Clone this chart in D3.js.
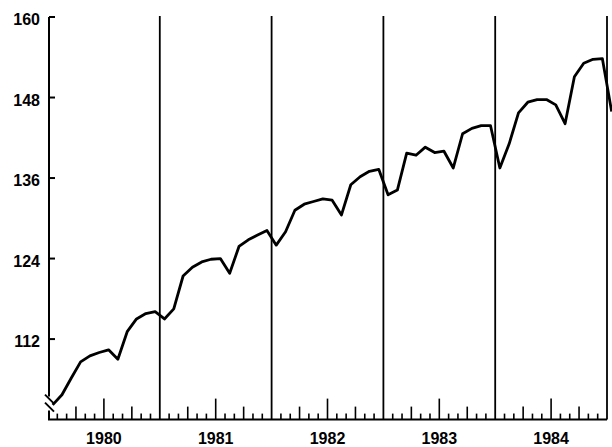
<!DOCTYPE html>
<html>
<head>
<meta charset="utf-8">
<script src="https://cdn.jsdelivr.net/npm/d3@7"></script>
<style>
  html, body { margin: 0; padding: 0; background: #fff; }
  svg { display: block; }
  text { font-family: "Liberation Sans", Arial, sans-serif; font-weight: bold; font-size: 16px; fill: #000; }
</style>
</head>
<body>
<svg id="chart" width="612" height="447"></svg>
<script>
// Monthly index, January 1980 through January 1985
const years = ["1980", "1981", "1982", "1983", "1984"];
const values1980 = [102.2, 103.7, 106.2, 108.6, 109.5, 110.0, 110.4, 109.0, 113.1, 115.0, 115.8, 116.1];
const values1981 = [115.0, 116.5, 121.4, 122.7, 123.5, 123.9, 124.0, 121.8, 125.8, 126.8, 127.5, 128.2];
const values1982 = [126.0, 128.0, 131.2, 132.1, 132.5, 132.9, 132.7, 130.5, 135.0, 136.2, 137.0, 137.3];
const values1983 = [133.5, 134.2, 139.7, 139.4, 140.6, 139.8, 140.0, 137.5, 142.6, 143.4, 143.8, 143.8];
const values1984 = [137.5, 141.1, 145.7, 147.3, 147.7, 147.7, 146.9, 144.1, 151.1, 153.1, 153.7, 153.8];
const values1985 = [145.9];
const yTicks = [112, 124, 136, 148, 160];

const series = [].concat(values1980, values1981, values1982, values1983, values1984, values1985);

const svg = d3.select("#chart");
const x = d3.scaleLinear().domain([0, 60]).range([48, 607]);
const y = d3.scaleLinear().domain([100, 160]).range([419.6, 17]);

const ink = "#000";

// Y axis, broken near the bottom
const breakTop = y(100) - 23, breakBottom = y(100) - 9;
svg.append("line").attr("x1", x(0) + 1).attr("x2", x(0) + 1)
  .attr("y1", y(160)).attr("y2", breakTop)
  .attr("stroke", ink).attr("stroke-width", 2);
svg.append("line").attr("x1", x(0) + 1).attr("x2", x(0) + 1)
  .attr("y1", breakBottom).attr("y2", y(100))
  .attr("stroke", ink).attr("stroke-width", 2);
[0, 8].forEach(off => {
  svg.append("line")
    .attr("x1", x(0) - 3).attr("y1", breakTop - 2 + off)
    .attr("x2", x(0) + 6).attr("y2", breakTop + 7 + off)
    .attr("stroke", ink).attr("stroke-width", 2);
});

// Y ticks and labels
svg.selectAll(".ytick").data(yTicks).enter().append("line")
  .attr("x1", x(0) + 1).attr("x2", x(0) + 7)
  .attr("y1", d => y(d)).attr("y2", d => y(d))
  .attr("stroke", ink).attr("stroke-width", 2);
svg.selectAll(".ylab").data(yTicks).enter().append("text")
  .attr("x", 40).attr("y", d => y(d) + 8)
  .attr("text-anchor", "end")
  .text(d => d);

// Bottom axis line
svg.append("line").attr("x1", x(0)).attr("x2", x(60))
  .attr("y1", y(100)).attr("y2", y(100))
  .attr("stroke", ink).attr("stroke-width", 2);

// Month ticks: long at mid-year, medium at quarters, short otherwise
const months = d3.range(1, 60).filter(m => m % 12 !== 0);
svg.selectAll(".mtick").data(months).enter().append("line")
  .attr("x1", d => x(d)).attr("x2", d => x(d))
  .attr("y1", y(100))
  .attr("y2", d => y(100) - (d % 12 === 6 ? 21 : (d % 3 === 0 ? 13 : 6)))
  .attr("stroke", ink).attr("stroke-width", 1.6);

// Year dividers
svg.selectAll(".ydiv").data(d3.range(1, 6)).enter().append("line")
  .attr("x1", d => x(d * 12)).attr("x2", d => x(d * 12))
  .attr("y1", y(160) - 1).attr("y2", y(100))
  .attr("stroke", ink).attr("stroke-width", 1.8);

// Year labels
svg.selectAll(".xlab").data(years).enter().append("text")
  .attr("x", (d, i) => x(i * 12 + 6)).attr("y", 443.5)
  .attr("text-anchor", "middle")
  .text(d => d);

// Data line, one point per month at mid-month
const line = d3.line().x((d, i) => x(i + 0.5)).y(d => y(d));
svg.append("path").datum(series)
  .attr("d", line)
  .attr("fill", "none").attr("stroke", ink)
  .attr("stroke-width", 2.8).attr("stroke-linejoin", "round");
</script>
</body>
</html>
